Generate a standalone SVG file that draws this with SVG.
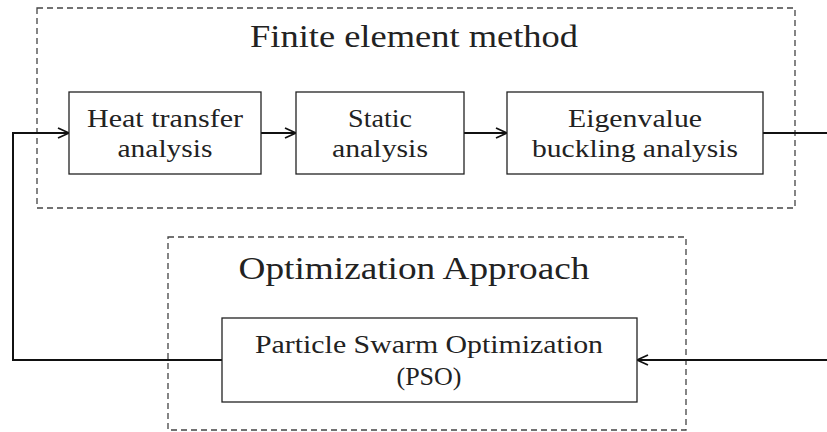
<svg xmlns="http://www.w3.org/2000/svg" width="827" height="432" viewBox="0 0 827 432">
<style>
.frame{fill:none;stroke:#444;stroke-width:1.3;stroke-dasharray:6,4}
.box{fill:#fff;stroke:#222;stroke-width:1.3}
.t{font-family:"Liberation Serif","Times New Roman",serif;fill:#222;text-anchor:middle}
.n{font-size:26px}
.h{font-size:32px}
.c{fill:none;stroke:#111;stroke-width:2}
</style>
<defs>
<marker id="arr" markerWidth="14" markerHeight="12" refX="12" refY="6" orient="auto" markerUnits="userSpaceOnUse">
<path d="M1,1 L12,6 L1,11" fill="none" stroke="#111" stroke-width="1.8"/>
</marker>
</defs>
<rect width="827" height="432" fill="#fff"/>
<g id="fem-frame">
<rect class="frame" x="37" y="8" width="758" height="200"/>
<text class="t h" x="414" y="47" textLength="328" lengthAdjust="spacingAndGlyphs">Finite element method</text>
</g>
<g id="opt-frame">
<rect class="frame" x="168" y="237" width="518" height="193"/>
<text class="t h" x="414" y="279" textLength="351" lengthAdjust="spacingAndGlyphs">Optimization Approach</text>
</g>
<g id="connectors">
<path class="c" d="M13,133 L69,133" marker-end="url(#arr)"/>
<path class="c" d="M261,133 L296,133" marker-end="url(#arr)"/>
<path class="c" d="M464,133 L507,133" marker-end="url(#arr)"/>
<path class="c" d="M763,133 L827,133"/>
<path class="c" d="M827,360 L637,360" marker-end="url(#arr)"/>
<path class="c" d="M222,360 L13,360 L13,132"/>
</g>
<g id="heat">
<rect class="box" x="69" y="92" width="192" height="82"/>
<text class="t n" x="165" y="127" textLength="156" lengthAdjust="spacingAndGlyphs">Heat transfer</text>
<text class="t n" x="165" y="157" textLength="95" lengthAdjust="spacingAndGlyphs">analysis</text>
</g>
<g id="static">
<rect class="box" x="296" y="92" width="168" height="82"/>
<text class="t n" x="380" y="127" textLength="64" lengthAdjust="spacingAndGlyphs">Static</text>
<text class="t n" x="380" y="157" textLength="96" lengthAdjust="spacingAndGlyphs">analysis</text>
</g>
<g id="eigen">
<rect class="box" x="507" y="92" width="256" height="82"/>
<text class="t n" x="635" y="127" textLength="134" lengthAdjust="spacingAndGlyphs">Eigenvalue</text>
<text class="t n" x="635" y="157" textLength="206" lengthAdjust="spacingAndGlyphs">buckling analysis</text>
</g>
<g id="pso">
<rect class="box" x="222" y="318" width="415" height="84"/>
<text class="t n" x="429" y="353" textLength="348" lengthAdjust="spacingAndGlyphs">Particle Swarm Optimization</text>
<text class="t n" x="429" y="385" textLength="65" lengthAdjust="spacingAndGlyphs">(PSO)</text>
</g>
</svg>
